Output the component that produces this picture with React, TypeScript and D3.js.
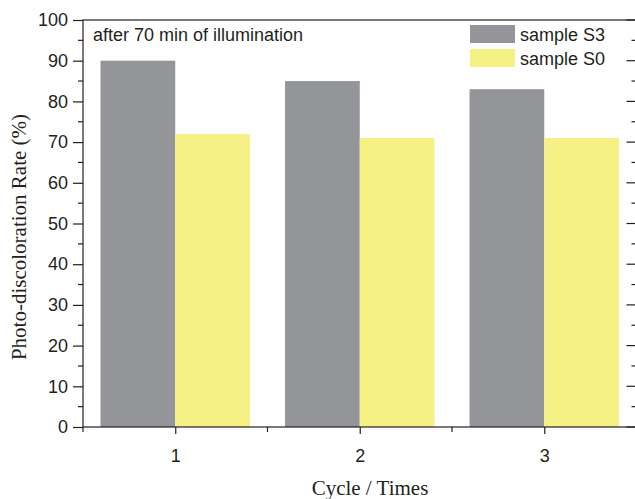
import React, { useEffect, useRef } from "react";
import * as d3 from "d3";

// data
const cycles = [1, 2, 3];
const sampleS3 = [90, 85, 83];
const sampleS0 = [72, 71, 71];
const seriesNames = ["sample S3", "sample S0"];
const seriesColors = ["#939598", "#f6f184"];
const yTicks = [0, 10, 20, 30, 40, 50, 60, 70, 80, 90, 100];

const W = 635, H = 499;

export default function App() {
  const ref = useRef<SVGSVGElement>(null);

  useEffect(() => {
    const svg = d3.select(ref.current);
    svg.selectAll("*").remove();

    const left = 83, right = 636.5, top = 20, bottom = 427;
    const x = d3.scaleLinear().domain([0.5, 3.5]).range([left, right]);
    const y = d3.scaleLinear().domain([0, 100]).range([bottom, top]);
    const unit = x(2) - x(1);
    const barW = unit * 0.405;
    const ink = "#231f20";
    const sans = "Liberation Sans, Arial, sans-serif";
    const serif = "Liberation Serif, Times New Roman, serif";
    const fs = 18;

    const g = svg.append("g");

    // bars
    const series = [sampleS3, sampleS0];
    series.forEach((vals, si) => {
      g.selectAll(".bar" + si)
        .data(vals)
        .join("rect")
        .attr("x", (d, i) => (si === 0 ? x(cycles[i]) - barW : x(cycles[i])))
        .attr("y", (d) => y(d))
        .attr("width", barW)
        .attr("height", (d) => y(0) - y(d))
        .attr("fill", seriesColors[si]);
    });

    // frame
    g.append("rect")
      .attr("x", left).attr("y", top)
      .attr("width", right - left).attr("height", bottom - top)
      .attr("fill", "none").attr("stroke", ink).attr("stroke-width", 1.2);

    // left axis
    const yAxis = g.append("g")
      .attr("transform", `translate(${left},0)`)
      .call(d3.axisLeft(y).tickValues(yTicks).tickSize(10).tickPadding(5).tickFormat(d3.format("d")));
    yAxis.select(".domain").remove();
    yAxis.selectAll("line").attr("stroke", ink).attr("stroke-width", 1.2);
    yAxis.selectAll("text").attr("font-family", sans).attr("font-size", fs).attr("fill", ink);

    const minorY = d3.range(5, 100, 10);
    g.selectAll(".minorL").data(minorY).join("line")
      .attr("x1", left - 5).attr("x2", left)
      .attr("y1", (d) => y(d)).attr("y2", (d) => y(d))
      .attr("stroke", ink).attr("stroke-width", 1.2);

    // right axis ticks (inward)
    g.selectAll(".majorR").data(yTicks).join("line")
      .attr("x1", right - 10).attr("x2", right)
      .attr("y1", (d) => y(d)).attr("y2", (d) => y(d))
      .attr("stroke", ink).attr("stroke-width", 1.2);
    g.selectAll(".minorR").data(minorY).join("line")
      .attr("x1", right - 5).attr("x2", right)
      .attr("y1", (d) => y(d)).attr("y2", (d) => y(d))
      .attr("stroke", ink).attr("stroke-width", 1.2);

    // bottom axis
    const xAxis = g.append("g")
      .attr("transform", `translate(0,${bottom})`)
      .call(d3.axisBottom(x).tickValues(cycles).tickSize(7).tickPadding(15).tickFormat(d3.format("d")));
    xAxis.select(".domain").remove();
    xAxis.selectAll("line").attr("stroke", ink).attr("stroke-width", 1.2);
    xAxis.selectAll("text").attr("font-family", sans).attr("font-size", fs).attr("fill", ink);

    g.selectAll(".minorB").data([0.5, 1.5, 2.5, 3.5]).join("line")
      .attr("x1", (d) => x(d)).attr("x2", (d) => x(d))
      .attr("y1", bottom).attr("y2", bottom + 5)
      .attr("stroke", ink).attr("stroke-width", 1.2);

    // annotation
    g.append("text")
      .attr("x", 93).attr("y", 41)
      .attr("font-family", sans).attr("font-size", fs).attr("fill", ink)
      .text("after 70 min of illumination");

    // legend
    seriesNames.forEach((name, i) => {
      const ly = 25 + i * 24;
      g.append("rect")
        .attr("x", 470).attr("y", ly).attr("width", 45).attr("height", 18)
        .attr("fill", seriesColors[i]);
      g.append("text")
        .attr("x", 520).attr("y", ly + 16)
        .attr("font-family", sans).attr("font-size", fs).attr("fill", ink)
        .text(name);
    });

    // axis titles
    g.append("text")
      .attr("x", 370).attr("y", 495)
      .attr("text-anchor", "middle")
      .attr("font-family", serif).attr("font-size", 21).attr("fill", ink)
      .text("Cycle / Times");

    g.append("text")
      .attr("transform", `translate(26,237) rotate(-90)`)
      .attr("text-anchor", "middle")
      .attr("font-family", serif).attr("font-size", 21).attr("fill", ink)
      .text("Photo-discoloration Rate (%)");
  }, []);

  return (
    <svg
      ref={ref}
      width={W}
      height={H}
      style={{ position: "absolute", left: 0, top: 0, background: "#fff" }}
    />
  );
}
